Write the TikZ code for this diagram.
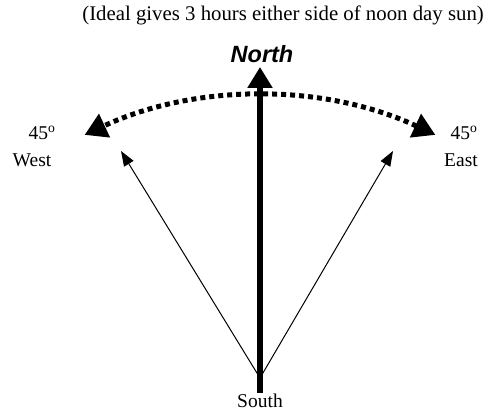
\documentclass[tikz,border=0pt]{standalone}
\usepackage{fontspec}
\setmainfont{Liberation Serif}
\setsansfont{Liberation Sans}
\usetikzlibrary{arrows.meta, positioning}

\tikzstyle{label} = [
    inner sep=0pt,
    font=\fontsize{19.5}{22}\selectfont
]
\tikzstyle{heading} = [
    inner sep=0pt,
    font=\sffamily\bfseries\itshape\fontsize{23.5}{26}\selectfont
]
\tikzstyle{mainarrow} = [line width=6pt,-{Triangle[length=21pt,width=24pt]}]
\tikzstyle{sidearrow} = [line width=1pt,-{Triangle[length=15pt,width=11pt]}]
\tikzstyle{swing} = [
    line width=5pt,
    dash pattern=on 5pt off 4pt,
    {Triangle[length=22pt,width=25pt]}-{Triangle[length=22pt,width=25pt]}
]

\begin{document}
\begin{tikzpicture}[x=1pt,y=1pt]
\useasboundingbox (0,0) rectangle (484,411);

\coordinate (foot) at (260,18);
\coordinate (hub) at (260,33);
\coordinate (ntip) at (260,344);
\coordinate (wtip) at (121,260);
\coordinate (etip) at (393,260);
\coordinate (centre) at (260,-100);

\node (title) [label, anchor=east, font=\fontsize{20.8}{23}\selectfont] at (484,396)
{(Ideal gives 3 hours either side of noon day sun)};

\node (north) [heading] at (262,357) {North};
\node (south) [label] at (260,10) {South};

\node (westdeg) [label] at (42,278) {45\textsuperscript{o}};
\node (west) [label] at (32,251) {West};
\node (eastdeg) [label] at (464,278) {45\textsuperscript{o}};
\node (east) [label] at (461,251) {East};

\draw [swing] ([shift={(65:415)}]centre) arc (65:115:415);

\draw [sidearrow] (hub) -- (wtip);
\draw [sidearrow] (hub) -- (etip);
\draw [mainarrow] (foot) -- (ntip);

\end{tikzpicture}
\end{document}
